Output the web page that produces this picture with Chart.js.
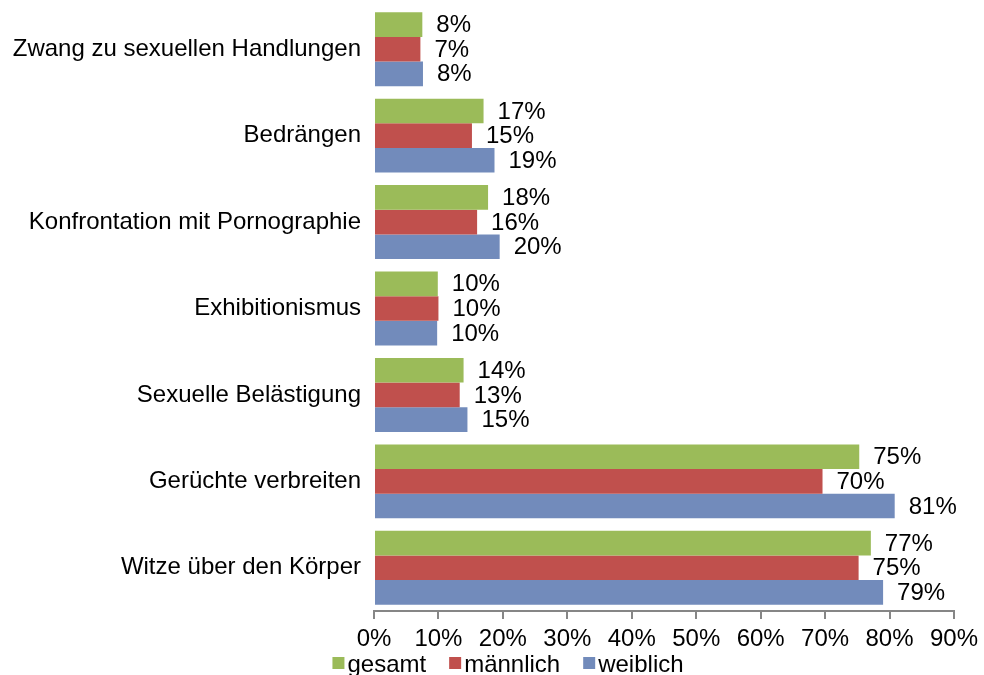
<!DOCTYPE html>
<html>
<head>
<meta charset="utf-8">
<script src="https://cdn.jsdelivr.net/npm/chart.js@4/dist/chart.umd.min.js"></script>
<style>
    html, body { margin: 0; padding: 0; background: #fff; }
    #wrap { width: 984px; height: 675px; }
</style>
</head>
<body>
<div id="wrap"><canvas id="chart" width="984" height="675"></canvas></div>
<script>
const categories = [
    'Zwang zu sexuellen Handlungen',
    'Bedrängen',
    'Konfrontation mit Pornographie',
    'Exhibitionismus',
    'Sexuelle Belästigung',
    'Gerüchte verbreiten',
    'Witze über den Körper'
];
const gesamt = [7.5, 17.0, 17.7, 9.9, 13.9, 75.3, 77.1];
const maennlich = [7.2, 15.2, 16.0, 10.0, 13.3, 69.6, 75.2];
const weiblich = [7.6, 18.7, 19.5, 9.8, 14.5, 80.8, 79.0];
const xTicks = [0, 10, 20, 30, 40, 50, 60, 70, 80, 90];

const FONT = "'Liberation Sans', Arial, sans-serif";

// Draws the value next to the end of each bar
const valueLabels = {
    id: 'valueLabels',
    afterDatasetsDraw(chart) {
        const ctx = chart.ctx;
        ctx.save();
        ctx.font = `24px ${FONT}`;
        ctx.fillStyle = '#000';
        ctx.textAlign = 'left';
        ctx.textBaseline = 'middle';
        chart.data.datasets.forEach((ds, i) => {
            chart.getDatasetMeta(i).data.forEach((bar, j) => {
                ctx.fillText(Math.round(ds.data[j]) + '%', bar.x + 14, bar.y + 1);
            });
        });
        ctx.restore();
    }
};

// Tight Excel-style legend under the axis
const bottomLegend = {
    id: 'bottomLegend',
    afterDraw(chart) {
        const ctx = chart.ctx;
        ctx.save();
        ctx.font = `24px ${FONT}`;
        ctx.textBaseline = 'middle';
        ctx.textAlign = 'left';
        const items = chart.data.datasets.map(ds => ({
            text: ds.label,
            color: ds.backgroundColor,
            w: 15 + ctx.measureText(ds.label).width
        }));
        const gap = 23;
        const total = items.reduce((s, it) => s + it.w, 0) + gap * (items.length - 1);
        let x = 508 - total / 2;
        const y = 664;
        items.forEach(it => {
            ctx.fillStyle = it.color;
            ctx.fillRect(x, y - 7, 12, 12);
            ctx.fillStyle = '#000';
            ctx.fillText(it.text, x + 15, y + 1);
            x += it.w + gap;
        });
        ctx.restore();
    }
};

const ctx = document.getElementById('chart').getContext('2d');
new Chart(ctx, {
    type: 'bar',
    data: {
        labels: categories,
        datasets: [
            { label: 'gesamt', data: gesamt, backgroundColor: '#9BBB59' },
            { label: 'männlich', data: maennlich, backgroundColor: '#C0504D' },
            { label: 'weiblich', data: weiblich, backgroundColor: '#728BBB' }
        ]
    },
    options: {
        indexAxis: 'y',
        responsive: false,
        animation: false,
        barPercentage: 1,
        categoryPercentage: 0.855,
        layout: {
            padding: { top: 6, right: 27, left: 0, bottom: 28 }
        },
        plugins: {
            legend: { display: false },
            tooltip: { enabled: false }
        },
        scales: {
            x: {
                min: 0,
                max: 90,
                afterBuildTicks: (scale) => {
                    scale.ticks = xTicks.map(v => ({ value: v }));
                },
                afterFit: (scale) => { scale.height = 36; },
                grid: {
                    drawOnChartArea: false,
                    color: '#868686',
                    lineWidth: 2,
                    tickLength: 8
                },
                border: { display: true, color: '#868686', width: 2 },
                ticks: {
                    color: '#000',
                    font: { family: FONT, size: 24 },
                    padding: 6,
                    callback: (v) => v + '%'
                }
            },
            y: {
                afterFit: (scale) => { scale.width = 374; },
                grid: { display: false, tickLength: 13 },
                border: { display: false },
                ticks: {
                    color: '#000',
                    font: { family: FONT, size: 24, lineHeight: 0.5 },
                    padding: 0
                }
            }
        }
    },
    plugins: [valueLabels, bottomLegend]
});
</script>
</body>
</html>
